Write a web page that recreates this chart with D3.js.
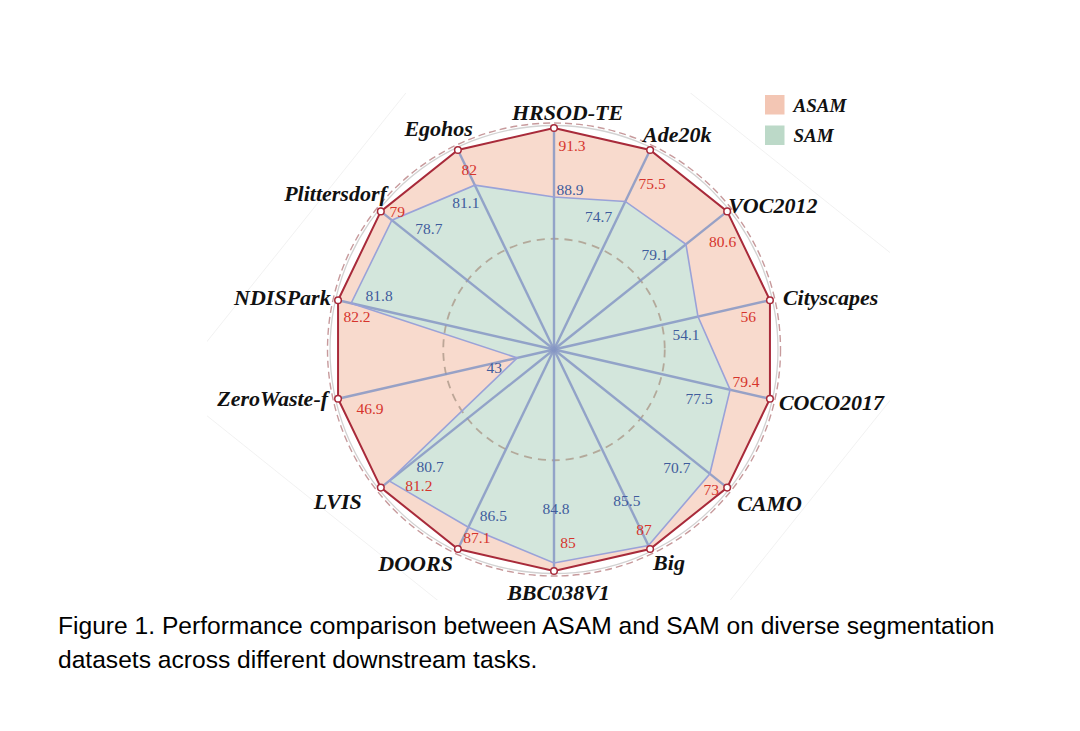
<!DOCTYPE html>
<html>
<head>
<meta charset="utf-8">
<script src="https://cdn.jsdelivr.net/npm/d3@7"></script>
<style>
  html, body { margin: 0; padding: 0; background: #ffffff; }
  svg { display: block; }
</style>
</head>
<body>
<svg id="chart" width="1080" height="731"></svg>
<script>
// ---------------- data ----------------
const categories = ["HRSOD-TE","Ade20k","VOC2012","Cityscapes","COCO2017","CAMO","Big",
                    "BBC038V1","DOORS","LVIS","ZeroWaste-f","NDISPark","Plittersdorf","Egohos"];
const asamValues = [91.3, 75.5, 80.6, 56, 79.4, 73, 87, 85, 87.1, 81.2, 46.9, 82.2, 79, 82];
const samValues  = [88.9, 74.7, 79.1, 54.1, 77.5, 70.7, 85.5, 84.8, 86.5, 80.7, 43, 81.8, 78.7, 81.1];
// per-axis value range (each axis has its own scale)
const axisMin = [83.6, 72.4, 74.3, 50.3, 69.1, 50.0, 0, 79.5, 81.6, 70.8, 42.2, 75.6, 74.3, 76.9];
const axisMax = [91.3, 75.5, 80.6, 56, 79.4, 73, 87, 85, 87.1, 81.2, 46.9, 82.2, 79, 82];
const seriesNames = ["ASAM", "SAM"];

// ---------------- layout (not data) ----------------
const W = 1080, H = 731;
const cx = 554, cy = 349.5, R = 221.5;
// label nudges relative to the scaled vertex
const nudgeA = [[18,17],[2,34],[-4.5,30],[-21.6,16.5],[-24,-17],[-16,2],[-6,-20],
                [14,-29],[19,-11.5],[38,-2.6],[32,9.5],[19,16.5],[16.5,0],[11.4,20]];
const nudgeS = [[16,-8],[-26.7,15],[-31,10],[-12,18],[-31,9],[-33,-6],[-21.6,-45],
                [2,-54],[25,-12],[41,-14],[-23,10],[28,-8],[37,8],[-9,17]];
// category label: [dx, dy, anchor]
const catPos = [[13.5,-16,"middle"],[-7,-15,"start"],[1,-6,"start"],[13,-3,"start"],
                [9,4,"start"],[10,16,"start"],[3,13,"start"],[4.5,21,"middle"],
                [-5,14,"end"],[-19,14,"end"],[-10,0,"end"],[-7.4,-3,"end"],
                [6,-18,"end"],[15,-21,"end"]];

const colors = {
  asamFill: "#f8dacd", samFill: "#d3e6dc",
  asamLine: "#a82a3a", samLine: "#9aa2d8",
  spoke: "#8696c4", asamText: "#d6342c", samText: "#3f5c9c",
  legA: "#f3c6b4", legS: "#bcd9c8"
};

const svg = d3.select("#chart");
svg.append("rect").attr("width", W).attr("height", H).attr("fill", "#fff");

// faint rotated frame (background artefact of the original figure)
const defs = svg.append("defs");
defs.append("clipPath").attr("id", "frameClip")
  .append("rect").attr("x", 207).attr("y", 93).attr("width", 683).attr("height", 507);
const fc = [548.5, 347], v = [0.625, -0.781], w = [-0.781, -0.625];
const corners = [[287,270],[287,-300],[-267,-300],[-267,270]]
  .map(([p,q]) => [fc[0] + p*v[0] + q*w[0], fc[1] + p*v[1] + q*w[1]]);
svg.append("polygon").attr("clip-path", "url(#frameClip)")
  .attr("points", corners.map(d => d.join(",")).join(" "))
  .attr("fill", "none").attr("stroke", "#eeeeee").attr("stroke-width", 0.8);

// scales
const angle = d3.scaleBand().domain(categories).range([0, 2 * Math.PI]).align(0).paddingInner(0);
const rScales = categories.map((c, i) => d3.scaleLinear().domain([axisMin[i], axisMax[i]]).range([0, R]));
const pt = (i, val) => {
  const a = angle(categories[i]);
  const r = rScales[i](val);
  return [cx + r * Math.sin(a), cy - r * Math.cos(a)];
};

const g = svg.append("g");
const radial = d3.lineRadial().curve(d3.curveLinearClosed);
const gc = g.append("g").attr("transform", `translate(${cx},${cy})`);

// outer reference circles
gc.append("circle").attr("r", R + 2.5).attr("fill", "none").attr("stroke", "#d2d2d2").attr("stroke-width", 1.3);
gc.append("circle").attr("r", R + 5).attr("fill", "none").attr("stroke", "#c79a9c")
  .attr("stroke-width", 1.4).attr("stroke-dasharray", "7,4");

// ASAM area
gc.append("path")
  .attr("d", radial(categories.map((c, i) => [angle(c), rScales[i](asamValues[i])])))
  .attr("fill", colors.asamFill).attr("stroke", "none");
// SAM area
gc.append("path")
  .attr("d", radial(categories.map((c, i) => [angle(c), rScales[i](samValues[i])])))
  .attr("fill", colors.samFill).attr("stroke", "none");

// inner dashed circle (mid range)
gc.append("circle").attr("r", R / 2).attr("fill", "none")
  .attr("stroke", "#a89484").attr("stroke-opacity", 0.75)
  .attr("stroke-width", 1.8).attr("stroke-dasharray", "8,6");

// spokes
gc.selectAll("line.spoke").data(categories).join("line")
  .attr("class", "spoke")
  .attr("x1", 0).attr("y1", 0)
  .attr("x2", (c, i) => pt(i, asamValues[i])[0] - cx)
  .attr("y2", (c, i) => pt(i, asamValues[i])[1] - cy)
  .attr("stroke", colors.spoke).attr("stroke-opacity", 0.85).attr("stroke-width", 2.4);

// SAM outline
gc.append("path")
  .attr("d", radial(categories.map((c, i) => [angle(c), rScales[i](samValues[i])])))
  .attr("fill", "none").attr("stroke", colors.samLine).attr("stroke-width", 1.6);
// ASAM outline
gc.append("path")
  .attr("d", radial(categories.map((c, i) => [angle(c), rScales[i](asamValues[i])])))
  .attr("fill", "none").attr("stroke", colors.asamLine).attr("stroke-width", 2);

// ASAM markers
g.selectAll("circle.mk").data(categories).join("circle")
  .attr("class", "mk")
  .attr("cx", (c, i) => pt(i, asamValues[i])[0])
  .attr("cy", (c, i) => pt(i, asamValues[i])[1])
  .attr("r", 3.3).attr("fill", "#fff").attr("stroke", colors.asamLine).attr("stroke-width", 1.5);

// value labels
const valFont = "'Liberation Serif','Times New Roman',serif";
g.selectAll("text.va").data(categories).join("text")
  .attr("class", "va")
  .attr("x", (c, i) => pt(i, asamValues[i])[0] + nudgeA[i][0])
  .attr("y", (c, i) => pt(i, asamValues[i])[1] + nudgeA[i][1])
  .attr("text-anchor", "middle").attr("dominant-baseline", "central")
  .attr("font-family", valFont).attr("font-size", 15.5)
  .attr("fill", colors.asamText)
  .text((c, i) => asamValues[i]);
g.selectAll("text.vs").data(categories).join("text")
  .attr("class", "vs")
  .attr("x", (c, i) => pt(i, samValues[i])[0] + nudgeS[i][0])
  .attr("y", (c, i) => pt(i, samValues[i])[1] + nudgeS[i][1])
  .attr("text-anchor", "middle").attr("dominant-baseline", "central")
  .attr("font-family", valFont).attr("font-size", 15.5)
  .attr("fill", colors.samText)
  .text((c, i) => samValues[i]);

// category labels
g.selectAll("text.cat").data(categories).join("text")
  .attr("class", "cat")
  .attr("x", (c, i) => pt(i, asamValues[i])[0] + catPos[i][0])
  .attr("y", (c, i) => pt(i, asamValues[i])[1] + catPos[i][1])
  .attr("text-anchor", (c, i) => catPos[i][2]).attr("dominant-baseline", "central")
  .attr("font-family", valFont).attr("font-size", 22)
  .attr("font-weight", "bold").attr("font-style", "italic").attr("fill", "#111")
  .text(c => c);

// legend
const leg = svg.append("g").attr("transform", "translate(765,95)");
const legColors = [colors.legA, colors.legS];
seriesNames.forEach((s, i) => {
  leg.append("rect").attr("x", 0).attr("y", i * 30.5).attr("width", 19.5).attr("height", 19.5)
    .attr("fill", legColors[i]);
  leg.append("text").attr("x", 28.5).attr("y", i * 30.5 + 10).attr("dominant-baseline", "central")
    .attr("font-family", valFont).attr("font-size", 19).attr("font-weight", "bold")
    .attr("font-style", "italic").attr("fill", "#111").text(s);
});

// caption
const capFont = "'Liberation Sans', Arial, Helvetica, sans-serif";
const capLines = ["Figure 1. Performance comparison between ASAM and SAM on diverse segmentation",
                  "datasets across different downstream tasks."];
capLines.forEach((t, i) => {
  svg.append("text").attr("x", 58).attr("y", 633.5 + i * 34.5)
    .attr("font-family", capFont).attr("font-size", 24.6).attr("fill", "#000").text(t);
});
</script>
</body>
</html>
